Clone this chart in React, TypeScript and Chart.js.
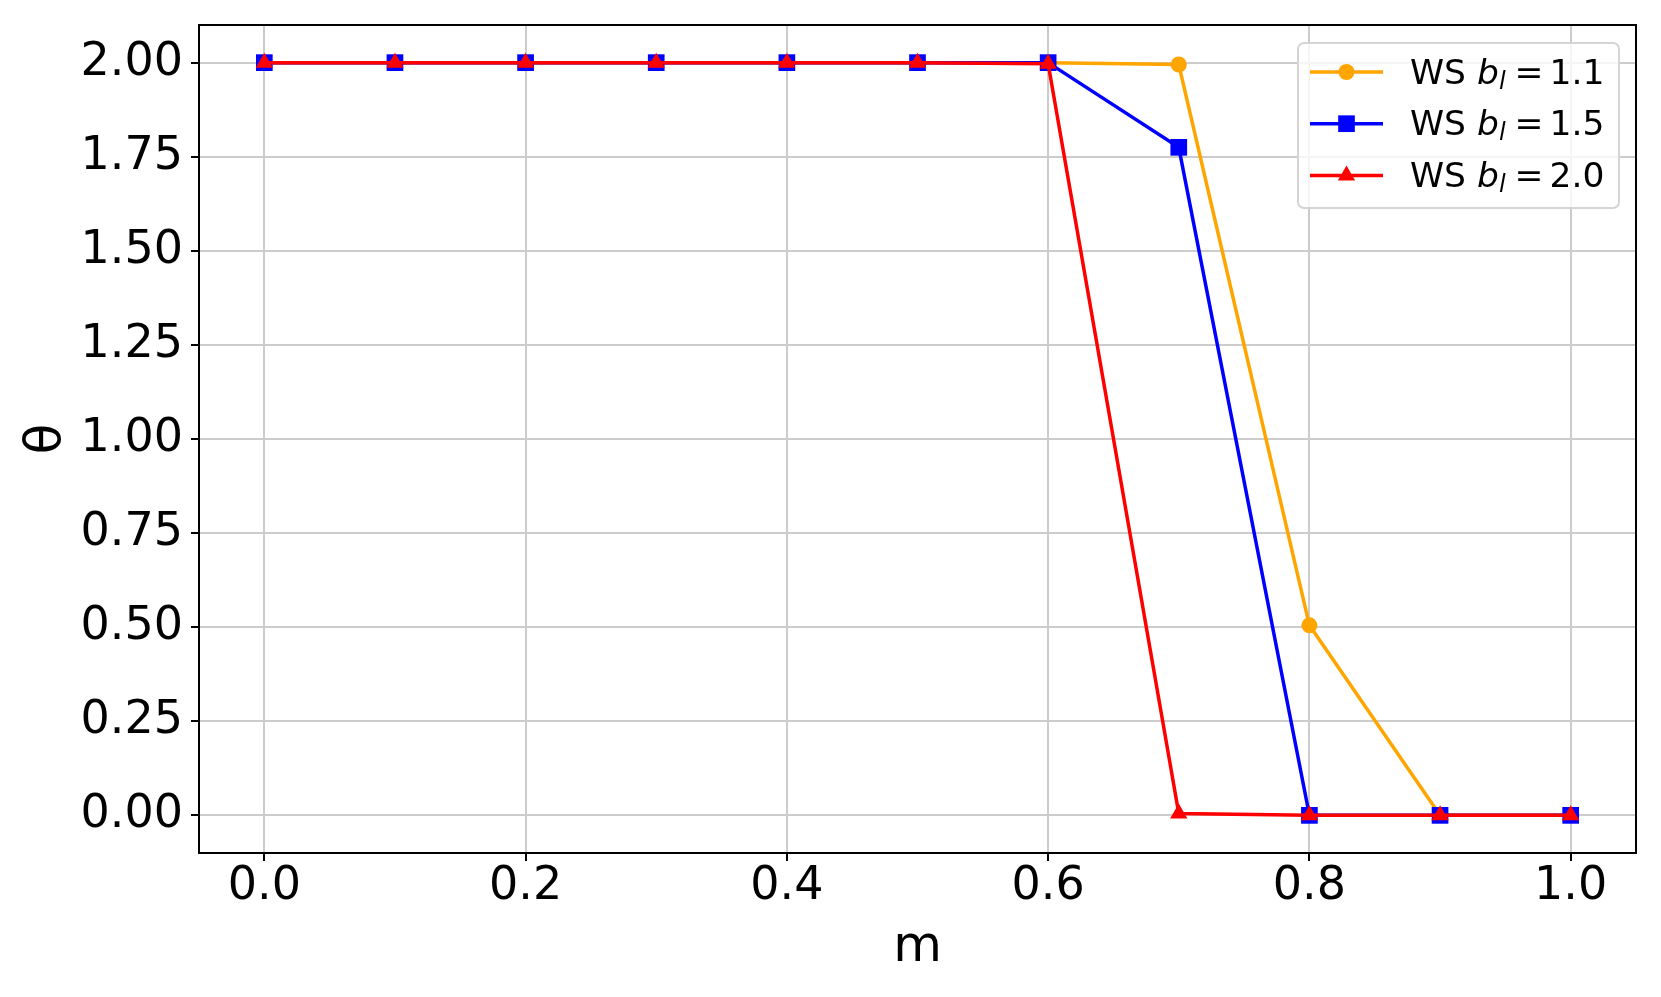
import React, { useEffect, useRef } from 'react';
import { Chart, registerables } from 'chart.js';

Chart.register(...registerables);

// ---- data ----
const mValues = [0.0, 0.1, 0.2, 0.3, 0.4, 0.5, 0.6, 0.7, 0.8, 0.9, 1.0];
const thetaB11 = [2.0, 2.0, 2.0, 2.0, 2.0, 2.0, 2.0, 1.995, 0.505, 0.0, 0.0];
const thetaB15 = [2.0, 2.0, 2.0, 2.0, 2.0, 2.0, 2.0, 1.775, 0.0, 0.0, 0.0];
const thetaB20 = [2.0, 2.0, 2.0, 2.0, 2.0, 2.0, 1.997, 0.005, 0.0, 0.0, 0.0];
const seriesValues = ['1.1', '1.5', '2.0'];
const xTicks = [0.0, 0.2, 0.4, 0.6, 0.8, 1.0];
const yTicks = [0.0, 0.25, 0.5, 0.75, 1.0, 1.25, 1.5, 1.75, 2.0];

const FONT = "'DejaVu Sans', sans-serif";
const COLORS = ['#ffa500', '#0000ff', '#ff0000'];
const STYLES = ['circle', 'rect', 'triangle'];
const RADII = [8, 11.8, 10];

function drawMarker(ctx: CanvasRenderingContext2D, style: string, x: number, y: number, color: string) {
  ctx.fillStyle = color;
  ctx.beginPath();
  if (style === 'circle') {
    ctx.arc(x, y, RADII[0], 0, Math.PI * 2);
  } else if (style === 'rect') {
    const s = RADII[1] * Math.SQRT1_2;
    ctx.rect(x - s, y - s, 2 * s, 2 * s);
  } else {
    const r = RADII[2];
    ctx.moveTo(x, y - r);
    ctx.lineTo(x + r * Math.sin((2 * Math.PI) / 3), y - r * Math.cos((2 * Math.PI) / 3));
    ctx.lineTo(x + r * Math.sin((4 * Math.PI) / 3), y - r * Math.cos((4 * Math.PI) / 3));
    ctx.closePath();
  }
  ctx.fill();
}

const spinePlugin = {
  id: 'spines',
  afterDatasetsDraw(chart: any) {
    const { ctx, chartArea } = chart;
    ctx.save();
    ctx.strokeStyle = '#000';
    ctx.lineWidth = 2;
    ctx.strokeRect(chartArea.left, chartArea.top, chartArea.right - chartArea.left, chartArea.bottom - chartArea.top);
    ctx.restore();
  },
};

const legendPlugin = {
  id: 'mplLegend',
  afterDraw(chart: any) {
    const { ctx, chartArea } = chart;
    ctx.save();
    const w = 321;
    const h = 165;
    const x0 = chartArea.right - 17 - w;
    const y0 = chartArea.top + 18;
    ctx.beginPath();
    (ctx as any).roundRect(x0, y0, w, h, 6);
    ctx.fillStyle = 'rgba(255,255,255,0.8)';
    ctx.fill();
    ctx.strokeStyle = '#d4d4d4';
    ctx.lineWidth = 2;
    ctx.stroke();

    const size = 34.5;
    seriesValues.forEach((val, i) => {
      const yc = y0 + 29 + i * 51.7;
      const color = COLORS[i];
      ctx.strokeStyle = color;
      ctx.lineWidth = 3.5;
      ctx.beginPath();
      ctx.moveTo(x0 + 12, yc);
      ctx.lineTo(x0 + 85, yc);
      ctx.stroke();
      drawMarker(ctx, STYLES[i], x0 + 48.5, yc, color);

      const base = yc + 11.5;
      ctx.fillStyle = '#000';
      ctx.textBaseline = 'alphabetic';
      ctx.textAlign = 'left';
      let x = x0 + 112;
      ctx.font = `${size}px ${FONT}`;
      ctx.fillText('WS', x, base);
      x += ctx.measureText('WS').width + 11;
      ctx.font = `italic ${size}px ${FONT}`;
      ctx.fillText('b', x, base);
      x += ctx.measureText('b').width;
      ctx.font = `italic ${size * 0.7}px ${FONT}`;
      ctx.fillText('l', x, base + 5);
      x += ctx.measureText('l').width + 9;
      ctx.font = `${size}px ${FONT}`;
      ctx.fillText('=', x, base);
      x += ctx.measureText('=').width + 6;
      ctx.fillText(val, x, base);
    });
    ctx.restore();
  },
};

export default function App() {
  const canvasRef = useRef<HTMLCanvasElement | null>(null);

  useEffect(() => {
    const canvas = canvasRef.current;
    if (!canvas) return;
    const seriesData = [thetaB11, thetaB15, thetaB20];
    const datasets = seriesData.map((arr, i) => ({
      label: `WS b_l = ${seriesValues[i]}`,
      data: mValues.map((m, j) => ({ x: m, y: arr[j] })),
      borderColor: COLORS[i],
      backgroundColor: COLORS[i],
      borderWidth: 3.5,
      pointStyle: STYLES[i] as any,
      pointRadius: RADII[i],
      pointBackgroundColor: COLORS[i],
      pointBorderColor: COLORS[i],
      pointBorderWidth: 0,
      tension: 0,
      fill: false,
      order: 3 - i,
    }));

    const chart = new Chart(canvas, {
      type: 'line',
      data: { datasets },
      plugins: [spinePlugin, legendPlugin],
      options: {
        animation: false,
        responsive: false,
        devicePixelRatio: 1,
        layout: { padding: { left: 0, top: 25, right: 25, bottom: 0 } },
        plugins: { legend: { display: false }, tooltip: { enabled: false } },
        scales: {
          x: {
            type: 'linear',
            min: -0.05,
            max: 1.05,
            afterBuildTicks: (s: any) => {
              s.ticks = xTicks.map((v) => ({ value: v }));
            },
            afterFit: (s: any) => {
              s.height = 144;
              s.paddingLeft = 0;
              s.paddingRight = 0;
            },
            ticks: {
              callback: (v: any) => Number(v).toFixed(1),
              font: { family: FONT, size: 46, lineHeight: 1 },
              color: '#000',
              padding: 3,
              maxRotation: 0,
              autoSkip: false,
            },
            grid: { color: '#cccccc', lineWidth: 2, tickColor: '#000', tickLength: 8, tickWidth: 2 },
            border: { color: '#000', width: 2 },
            title: {
              display: true,
              text: 'm',
              color: '#000',
              font: { family: FONT, size: 50, lineHeight: 1.2 },
              padding: { top: 0, bottom: 19 },
            },
          },
          y: {
            type: 'linear',
            min: -0.1,
            max: 2.1,
            afterBuildTicks: (s: any) => {
              s.ticks = yTicks.map((v) => ({ value: v }));
            },
            afterFit: (s: any) => {
              s.width = 199;
              s.paddingTop = 0;
              s.paddingBottom = 0;
            },
            ticks: {
              callback: (v: any) => Number(v).toFixed(2),
              font: { family: FONT, size: 46, lineHeight: 1 },
              color: '#000',
              padding: 8,
              autoSkip: false,
            },
            grid: { color: '#cccccc', lineWidth: 2, tickColor: '#000', tickLength: 8, tickWidth: 2 },
            border: { color: '#000', width: 2 },
            title: {
              display: true,
              text: 'θ',
              color: '#000',
              font: { family: FONT, size: 50, lineHeight: 1.2 },
              padding: { top: 17, bottom: 0 },
            },
          },
        },
      },
    });
    return () => chart.destroy();
  }, []);

  return (
    <div style={{ position: 'absolute', left: 0, top: 0, width: 1661, height: 997, background: '#fff' }}>
      <canvas ref={canvasRef} width={1661} height={997} style={{ display: 'block' }} />
    </div>
  );
}
